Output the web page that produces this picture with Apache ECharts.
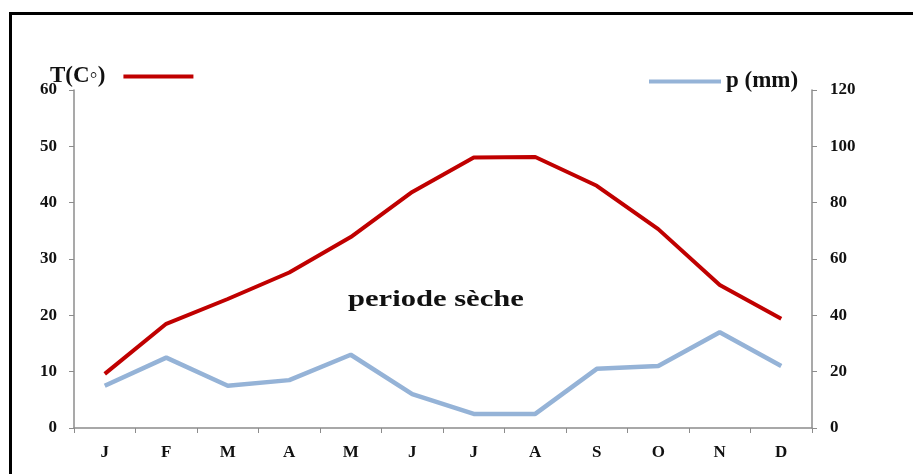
<!DOCTYPE html>
<html>
<head>
<meta charset="utf-8">
<script src="https://cdn.jsdelivr.net/npm/echarts@6/dist/echarts.min.js"></script>
<style>
  html, body { margin: 0; padding: 0; background: #fff; }
  #graph { width: 913px; height: 474px; }
</style>
</head>
<body>
<div id="graph"></div>
<script>
// données du diagramme ombrothermique
const months = ['J', 'F', 'M', 'A', 'M', 'J', 'J', 'A', 'S', 'O', 'N', 'D'];
const temperature = [9.6, 18.5, 22.9, 27.6, 33.9, 41.9, 48, 48.1, 43, 35.3, 25.4, 19.4];
const precipitation = [15, 25, 15, 17, 26, 12, 5, 5, 21, 22, 34, 22];
const tempTicks = [0, 60, 10];
const rainTicks = [0, 120, 20];

const serif = '"Liberation Serif", "DejaVu Serif", serif';

const chartDom = document.getElementById('graph');
const myChart = echarts.init(chartDom);

const axisLine = { show: true, lineStyle: { color: '#8c8c8c', width: 1.5 } };
const tickLabel = { fontFamily: serif, fontWeight: 'bold', fontSize: 17, color: '#111' };

const option = {
  animation: false,
  backgroundColor: '#ffffff',
  textStyle: { fontFamily: serif },
  graphic: [
    {
      type: 'rect',
      shape: { x: 10.5, y: 13.5, width: 930, height: 480 },
      style: { fill: 'none', stroke: '#000', lineWidth: 3 },
    },
    {
      type: 'text',
      x: 348,
      y: 289,
      scaleX: 1.33,
      style: {
        text: 'periode sèche',
        font: 'bold 23px ' + serif,
        fill: '#111',
      },
    },
  ],
  legend: [
    {
      data: ['T(C◦)'],
      left: 45,
      top: 60,
      align: 'right',
      icon: 'rect',
      itemWidth: 70,
      itemHeight: 4,
      textStyle: { fontFamily: serif, fontWeight: 'bold', fontSize: 23, color: '#111', padding: [0, 13, 14, 0] },
    },
    {
      data: ['p (mm)'],
      left: 644,
      top: 65,
      align: 'left',
      icon: 'rect',
      itemWidth: 72,
      itemHeight: 4,
      itemGap: 6,
      textStyle: { fontFamily: serif, fontWeight: 'bold', fontSize: 23, color: '#111', padding: [0, 0, 8, 0] },
    },
  ],
  grid: { left: 74, right: 101, top: 90, bottom: 46 },
  xAxis: {
    type: 'category',
    data: months,
    boundaryGap: true,
    axisLine: axisLine,
    axisTick: { show: true, length: 5, lineStyle: { color: '#8c8c8c' } },
    axisLabel: Object.assign({ margin: 16 }, tickLabel),
  },
  yAxis: [
    {
      type: 'value',
      position: 'left',
      min: tempTicks[0],
      max: tempTicks[1],
      interval: tempTicks[2],
      splitLine: { show: false },
      axisLine: axisLine,
      axisTick: { show: true, length: 5, lineStyle: { color: '#8c8c8c' } },
      axisLabel: Object.assign({ margin: 17 }, tickLabel),
    },
    {
      type: 'value',
      position: 'right',
      min: rainTicks[0],
      max: rainTicks[1],
      interval: rainTicks[2],
      splitLine: { show: false },
      axisLine: axisLine,
      axisTick: { show: true, length: 5, lineStyle: { color: '#8c8c8c' } },
      axisLabel: Object.assign({ margin: 18 }, tickLabel),
    },
  ],
  series: [
    {
      name: 'T(C◦)',
      type: 'line',
      yAxisIndex: 0,
      data: temperature,
      showSymbol: false,
      symbol: 'none',
      color: '#C00000',
      lineStyle: { color: '#C00000', width: 4 },
      z: 3,
    },
    {
      name: 'p (mm)',
      type: 'line',
      yAxisIndex: 1,
      data: precipitation,
      showSymbol: false,
      symbol: 'none',
      color: '#95B3D7',
      lineStyle: { color: '#95B3D7', width: 4.5 },
      z: 2,
    },
  ],
};

myChart.setOption(option);
</script>
</body>
</html>
